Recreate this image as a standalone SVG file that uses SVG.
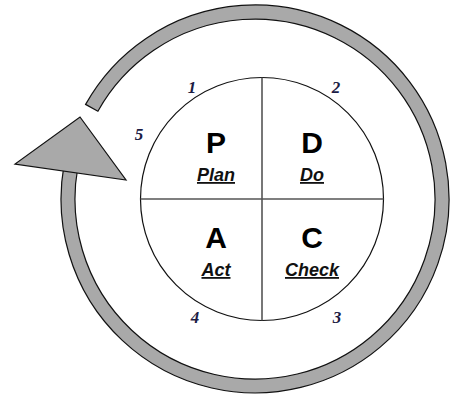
<svg xmlns="http://www.w3.org/2000/svg" width="450" height="394" viewBox="0 0 450 394">
<style>
.arrow{fill:#a9a9a9;stroke:#111;stroke-width:1.2;stroke-linejoin:miter}
.big{font-family:"Liberation Sans",Arial,sans-serif;font-weight:bold;font-size:30px;fill:#000;text-anchor:middle}
.lbl{font-family:"Liberation Sans",Arial,sans-serif;font-weight:bold;font-style:italic;font-size:18px;fill:#111;text-anchor:middle;text-decoration:underline}
.num{font-family:"Liberation Serif","Times New Roman",serif;font-weight:bold;font-style:italic;font-size:17px;fill:#1c1c44;text-anchor:middle}
.div{stroke:#555;stroke-width:1.6}
</style>
<rect width="450" height="394" fill="#fff"/>
<g id="connectors">
  <path class="arrow" d="M85.6,104.4 A194,194 0 1 1 63.95,165.32 L77.74,167.75 A180,180 0 1 0 97.9,111.2 Z"/>
  <polygon class="arrow" points="80,117 126,180 15,164"/>
</g>
<g id="circle">
  <circle cx="262" cy="199" r="121.5" fill="#fff" stroke="#111" stroke-width="1.2"/>
  <line class="div" x1="262" y1="77.5" x2="262" y2="320.5"/>
  <line class="div" x1="140.5" y1="199" x2="383.5" y2="199"/>
</g>
<g id="plan">
  <text class="big" x="216" y="153">P</text>
  <text class="lbl" x="216" y="181">Plan</text>
</g>
<g id="do">
  <text class="big" x="312" y="153">D</text>
  <text class="lbl" x="312" y="181">Do</text>
</g>
<g id="act">
  <text class="big" x="216" y="248">A</text>
  <text class="lbl" x="216" y="276">Act</text>
</g>
<g id="check">
  <text class="big" x="312" y="248">C</text>
  <text class="lbl" x="312" y="276">Check</text>
</g>
<g id="numbers">
  <text class="num" x="192" y="93">1</text>
  <text class="num" x="336" y="93">2</text>
  <text class="num" x="337" y="323">3</text>
  <text class="num" x="195" y="323">4</text>
  <text class="num" x="139" y="140">5</text>
</g>
</svg>
